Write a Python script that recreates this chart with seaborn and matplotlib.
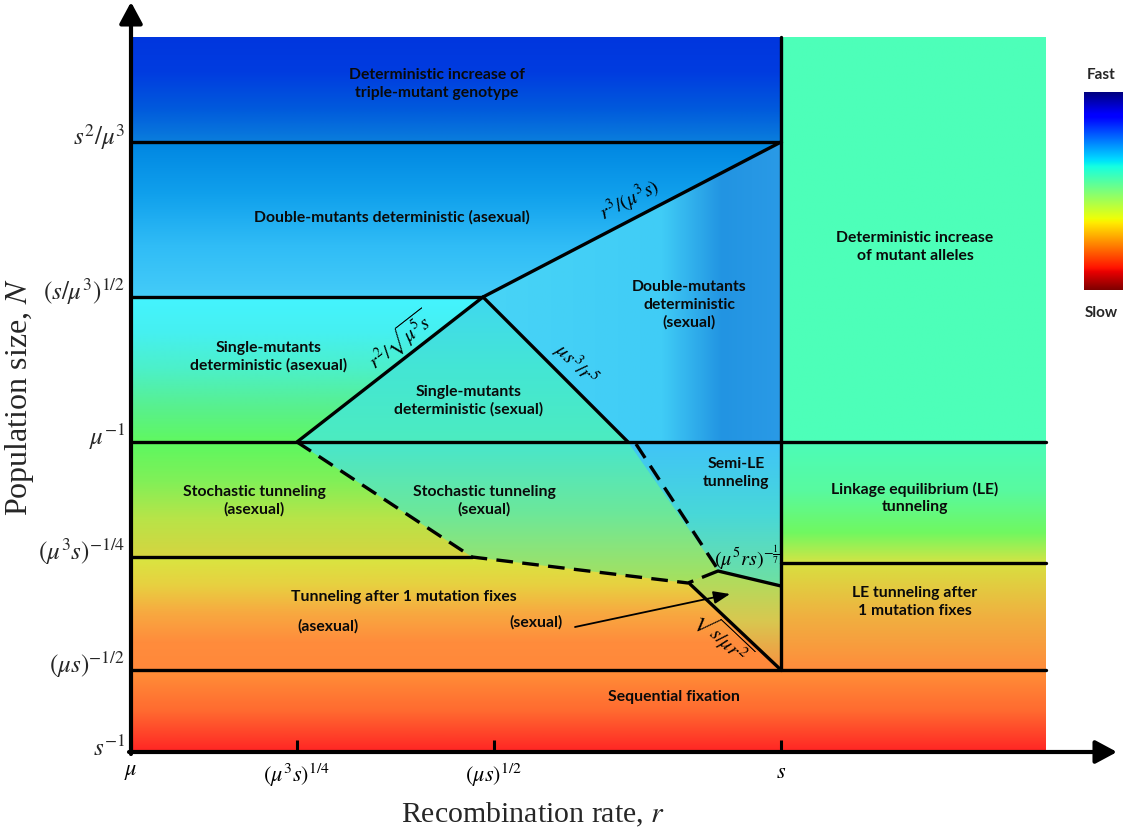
import numpy as np
import pandas as pd
import matplotlib
matplotlib.use("Agg")
import matplotlib.pyplot as plt
import seaborn as sns
from matplotlib.colors import LinearSegmentedColormap
from matplotlib.patches import Polygon

# ---------------- data (diagram units, log-scale schematic) ----------------
x_ticks = [0.0, 1.66, 3.63, 6.50]
x_tick_labels = [r'$\mu$', r'$(\mu^3s)^{1/4}$', r'$(\mu s)^{1/2}$', r'$s$']
y_ticks = [0.0, 0.82, 1.95, 3.10, 4.55, 6.10]
y_tick_labels = [r'$s^{-1}$', r'$(\mu s)^{-1/2}$', r'$(\mu^3s)^{-1/4}$',
                 r'$\mu^{-1}$', r'$(s/\mu^3)^{1/2}$', r'$s^2/\mu^3$']
x_edge = 9.15      # right edge of the regime map
y_edge = 7.15      # top edge of the regime map
y_le = 1.89        # LE tunneling / LE after 1 fixation boundary

# junction points of the regime boundaries
J_left = (1.66, 3.10)
J_top = (3.52, 4.55)
J_right = (4.97, 3.10)
J_dash = (5.05, 3.08)
J_mid = (3.41, 1.95)
J_knee = (5.57, 1.69)
J_tri = (5.87, 1.81)
J_s_low = (6.50, 1.66)
J_s_bot = (6.50, 0.82)
J_s_top = (6.50, 6.10)

boundaries = [
    ("solid", [(0, 6.10), (6.50, 6.10)]),
    ("solid", [(0, 4.55), J_top]),
    ("solid", [(0, 3.10), (x_edge, 3.10)]),
    ("solid", [(0, 1.95), J_mid]),
    ("solid", [(6.50, y_le), (x_edge, y_le)]),
    ("solid", [(0, 0.82), (x_edge, 0.82)]),
    ("solid", [(6.50, y_edge), J_s_bot]),
    ("solid", [J_left, J_top, J_s_top]),
    ("solid", [J_top, J_right]),
    ("solid", [J_tri, J_s_low]),
    ("solid", [(5.59, 1.68), J_s_bot]),
    ("dashed", [J_left, J_mid, J_knee, J_tri]),
    ("dashed", [J_dash, (5.86, 1.84)]),
]

# background bands: x0, x1, y0, y1, colours top -> bottom
bands = [
    (0, 6.50, 6.10, y_edge, ["#0036DE", "#003CE0", "#0058DC", "#0A7EDC"]),
    (0, 6.50, 4.55, 6.10, ["#0086E2", "#10A0EC", "#30BCF6", "#44CCF8"]),
    (0, 6.50, 3.10, 4.55, ["#44F4FF", "#46F0F0", "#4CF0C8", "#58F090", "#60F860"]),
    (0, 6.50, 1.95, 3.10, ["#5CF860", "#80F058", "#B8E448", "#D6D440"]),
    (0, 6.50, 0.82, 1.95, ["#D8E640", "#E8D040", "#F8A840", "#FF8C3C", "#FF883A"]),
    (0, x_edge, 0.0, 0.82, ["#FF9038", "#FF6A30", "#FF2424"]),
    (6.50, x_edge, 3.10, y_edge, ["#4DFFB9", "#4DFFB9"]),
    (6.50, x_edge, y_le, 3.10, [(0, "#4CFCB8"), (0.4, "#58FAA0"), (0.75, "#70F860"), (1, "#D4E444")]),
    (6.50, x_edge, 0.82, y_le, ["#D8E040", "#F0B040", "#FF8C3C"]),
]

# sexual regimes: polygon, colours, gradient direction
regions = [
    ([J_s_top, J_top, J_right, (6.50, 3.10)],
     [(0, "#48D4F6"), (0.6, "#40CCF6"), (0.8, "#2294E2"), (1, "#2A9AE6")], "h"),
    ([J_left, J_top, J_right], ["#40D8F0", "#44E6D4", "#4CECC0"], "v"),
    ([J_left, (5.05, 3.10), J_tri, J_knee, J_mid], ["#48E6CC", "#6CE89A", "#A8E05C"], "v"),
    ([(4.97, 3.10), (6.50, 3.10), J_s_low, J_tri], ["#40C4F8", "#48D8D8", "#70E0A0"], "v"),
    ([J_knee, J_tri, J_s_low, J_s_bot], ["#A8E060", "#D8C850", "#F89040"], "v"),
]

region_labels = [
    (3.06, 6.68, "Deterministic increase of\ntriple-mutant genotype"),
    (2.61, 5.35, "Double-mutants deterministic (asexual)"),
    (1.38, 3.95, "Single-mutants\ndeterministic (asexual)"),
    (3.38, 3.51, "Single-mutants\ndeterministic (sexual)"),
    (5.58, 4.47, "Double-mutants\ndeterministic\n(sexual)"),
    (7.84, 5.05, "Deterministic increase\nof mutant alleles"),
    (1.23, 2.51, "Stochastic tunneling\n(asexual)"),
    (3.53, 2.51, "Stochastic tunneling\n(sexual)"),
    (6.05, 2.79, "Semi-LE\ntunneling"),
    (7.84, 2.54, "Linkage equilibrium (LE)\ntunneling"),
    (2.73, 1.55, "Tunneling after 1 mutation fixes"),
    (1.97, 1.26, "(asexual)"),
    (4.05, 1.30, "(sexual)"),
    (7.84, 1.50, "LE tunneling after\n1 mutation fixes"),
    (5.43, 0.55, "Sequential fixation"),
]

# boundary formula labels: x, y, text, line it follows
formula_labels = [
    (4.99, 5.52, r'$r^3/(\mu^3 s)$', (J_top, J_s_top)),
    (2.69, 4.12, r'$r^2/\sqrt{\mu^5 s}$', (J_left, J_top)),
    (4.44, 3.87, r'$\mu s^3/r^5$', (J_top, J_right)),
    (6.16, 1.94, r'$(\mu^5 rs)^{-\frac{1}{7}}$', None),
    (5.91, 1.15, r'$\sqrt{s/\mu r^2}$', ((5.59, 1.68), J_s_bot)),
]

arrow_start = (4.44, 1.25)
arrow_end = (5.99, 1.58)

# ---------------- figure ----------------
sns.set_theme(style="white")
plt.rcParams['font.family'] = ['Lato', 'DejaVu Sans']
plt.rcParams['mathtext.fontset'] = 'stix'

W, H = 1123, 832
fig = plt.figure(figsize=(W / 100, H / 100), dpi=100)
ax = fig.add_axes([131 / W, 80 / H, (W - 131) / W, 752 / H])


def cmap_from(colors):
    return LinearSegmentedColormap.from_list("c", colors)


for x0, x1, y0, y1, cols in bands:
    grad = np.linspace(0, 1, 256).reshape(-1, 1)
    ax.imshow(grad, cmap=cmap_from(cols), extent=(x0, x1, y0, y1), origin="upper",
              aspect="auto", interpolation="bilinear", zorder=0)

for verts, cols, direction in regions:
    patch = Polygon(verts, closed=True, facecolor="none", edgecolor="none")
    ax.add_patch(patch)
    xs = [v[0] for v in verts]
    ys = [v[1] for v in verts]
    if direction == "v":
        grad = np.linspace(0, 1, 256).reshape(-1, 1)
    else:
        grad = np.linspace(0, 1, 256).reshape(1, -1)
    im = ax.imshow(grad, cmap=cmap_from(cols), extent=(min(xs), max(xs), min(ys), max(ys)),
                   origin="upper", aspect="auto", interpolation="bilinear", zorder=0.5)
    im.set_clip_path(patch)

rows = []
for i, (kind, pts) in enumerate(boundaries):
    for x, y in pts:
        rows.append({"seg": i, "kind": kind, "x": x, "y": y})
df = pd.DataFrame(rows)
sns.lineplot(data=df, x="x", y="y", units="seg", style="kind", estimator=None, sort=False,
             color="black", linewidth=2.4, dashes={"solid": "", "dashed": (5, 2.8)},
             legend=False, ax=ax, zorder=3)

ax.set_xlim(0, (W - 131) / 100)
ax.set_ylim(0, 7.52)
for sp in ax.spines.values():
    sp.set_visible(False)
ax.set_xlabel("")
ax.set_ylabel("")

# axes with arrows
arrow_kw = dict(arrowstyle="-|>,head_length=0.65,head_width=0.35", lw=3.0, color="black",
                shrinkA=0, shrinkB=0, mutation_scale=20)
ax.annotate("", xy=(9.86, 0), xytext=(-0.02, 0), arrowprops=arrow_kw, annotation_clip=False, zorder=5)
ax.annotate("", xy=(0, 7.50), xytext=(0, -0.02), arrowprops=arrow_kw, annotation_clip=False, zorder=5)

ax.set_xticks(x_ticks, x_tick_labels)
ax.tick_params(axis="x", bottom=True, direction="in", length=8.5, width=2.2, pad=7,
               labelsize=16, colors="black")
ax.set_yticks([])
for y, lab in zip(y_ticks, y_tick_labels):
    ax.text(-0.06, y + 0.05, lab, ha="right", va="center", fontsize=18)

ax.text(-1.11, 3.55, r"Population size, $N$", rotation=90, ha="center", va="center",
        fontsize=23, family=["Liberation Serif", "DejaVu Serif"])
ax.text(4.02, -0.63, r"Recombination rate, $r$", ha="center", va="center",
        fontsize=21.5, family=["Liberation Serif", "DejaVu Serif"])

for x, y, txt in region_labels:
    ax.text(x, y, txt, ha="center", va="center", fontsize=11.3, fontweight="bold",
            linespacing=1.3, color="#0a0a0a", zorder=6)

for x, y, txt, line in formula_labels:
    if line is None:
        ang = 0
    else:
        (xa, ya), (xb, yb) = line
        ang = np.degrees(np.arctan2(yb - ya, xb - xa))
    ax.text(x, y, txt, ha="center", va="center", rotation=ang, rotation_mode="anchor",
            fontsize=14.5, color="black", zorder=6)

ax.annotate("", xy=arrow_end, xytext=arrow_start,
            arrowprops=dict(arrowstyle="-|>,head_length=0.9,head_width=0.35", lw=1.3,
                            color="black", shrinkA=0, shrinkB=0, mutation_scale=11), zorder=6)

# speed colour bar
cax = fig.add_axes([1084 / W, (H - 290) / H, 39 / W, 198 / H])
cax.imshow(np.linspace(0, 1, 256).reshape(-1, 1), cmap="jet", aspect="auto")
cax.set_axis_off()
ax.text(9.70, 6.77, "Fast", ha="center", va="center", fontsize=11, fontweight="bold")
ax.text(9.70, 4.39, "Slow", ha="center", va="center", fontsize=11, fontweight="bold")

fig.savefig("out.png", dpi=100)
